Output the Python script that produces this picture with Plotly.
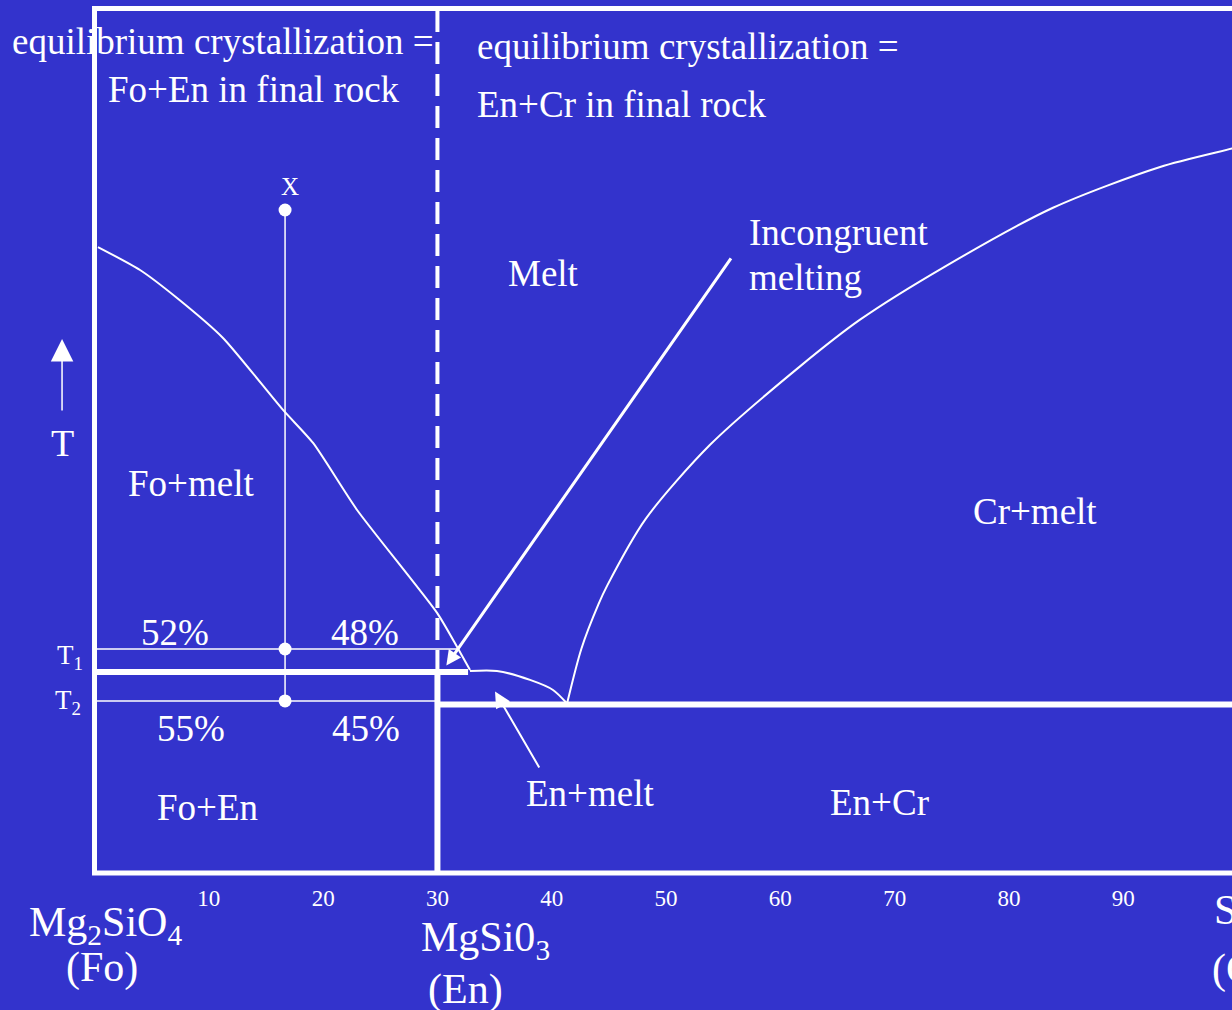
import numpy as np
import plotly.graph_objects as go

BG = "#3333CC"
FG = "white"
FONT = "Liberation Serif"

# ---------------- data (composition along x, relative temperature along y: 0 = bottom, 100 = top) -------------
tick_vals = [10, 20, 30, 40, 50, 60, 70, 80, 90]
tick_text = ["10", "20", "30", "40", "50", "60", "70", "80", "90"]

# Forsterite liquidus
fo_liquidus_x = [0.3, 3.98, 7.22, 11.24, 16.49, 19.12, 22.97, 29.97, 31.72, 32.85]
fo_liquidus_T = [72.4, 69.75, 66.51, 61.89, 53.56, 49.74, 41.99, 30.08, 26.14, 23.48]

# Enstatite liquidus (peritectic -> eutectic)
en_liquidus_x = [32.85, 35.21, 38.10, 40.11, 41.34]
en_liquidus_T = [23.37, 23.37, 22.33, 21.17, 19.6]

# Cristobalite liquidus
cr_liquidus_x = [41.34, 42.6, 44.1, 44.85, 48.22, 53.85, 61.72, 66.97, 74.47, 83.85, 93.22, 99.52, 100.0]
cr_liquidus_T = [19.6, 25.97, 31.12, 33.24, 40.96, 49.53, 58.60, 64.00, 70.20, 76.95, 81.67, 83.80, 84.0]

en_x = 30.0            # enstatite composition
peritectic_T = 23.25
peritectic_x = 32.68
eutectic_T = 19.49

bulk_x = 16.67         # bulk composition X
start_T = 76.69
T1 = 25.91
T2 = 19.90

x_range = [-8.268, 99.51]
y_range = [-15.85, 100.98]

fig = go.Figure()


def line(x, y, width, dash=None, shape="linear", smoothing=None):
    ld = dict(color=FG, width=width, dash=dash, shape=shape)
    if smoothing is not None:
        ld["smoothing"] = smoothing
    fig.add_trace(go.Scatter(x=x, y=y, mode="lines", hoverinfo="skip", line=ld))


# frame
line([100, 0, 0, 100], [100, 100, 0, 0], 5)
# liquidus curves
line(fo_liquidus_x, fo_liquidus_T, 2, shape="spline", smoothing=0.6)
line(en_liquidus_x, en_liquidus_T, 2, shape="spline", smoothing=0.8)
line(cr_liquidus_x, cr_liquidus_T, 2, shape="spline", smoothing=0.8)
# peritectic & eutectic isotherms
line([0, peritectic_x], [peritectic_T, peritectic_T], 6)
line([en_x, 100], [eutectic_T, eutectic_T], 6)
# enstatite composition line
line([en_x, en_x], [0, peritectic_T], 6)
line([en_x, en_x], [peritectic_T, 100], 4, dash="22px,10px")
# tie lines at T1 and T2
t1_end = float(np.interp(T1, fo_liquidus_T[::-1], fo_liquidus_x[::-1]))
line([0, t1_end], [T1, T1], 1.5)
line([0, en_x], [T2, T2], 1.5)
# isopleth of X
line([bulk_x, bulk_x], [T2, start_T], 1.5)
fig.add_trace(go.Scatter(x=[bulk_x] * 3, y=[start_T, T1, T2], mode="markers", hoverinfo="skip",
                         marker=dict(color=FG, size=13)))

ann = []


def text(x, y, s, size=37, xanchor="left"):
    ann.append(dict(x=x, y=y, text=s, showarrow=False,
                    xanchor=xanchor, yanchor="middle", borderpad=0, borderwidth=0,
                    font=dict(family=FONT, size=size, color=FG)))


def arrow(x, y, ax, ay, width, size, head=2):
    ann.append(dict(x=x, y=y, ax=ax, ay=ay, axref="x", ayref="y", text="", showarrow=True,
                    arrowhead=head, arrowwidth=width, arrowsize=size, arrowcolor=FG))


text(-7.22, 96.13, "equilibrium crystallization =")
text(1.18, 90.57, "Fo+En in final rock")
text(33.46, 95.55, "equilibrium crystallization =")
text(33.46, 88.84, "En+Cr in final rock")
text(17.1, 79.35, "X", size=25, xanchor="center")
text(36.18, 69.4, "Melt")
text(57.26, 74.03, "Incongruent")
text(57.26, 68.83, "melting")
text(-2.84, 49.74, "T", size=38, xanchor="center")
text(2.93, 45.11, "Fo+melt")
text(76.86, 41.87, "Cr+melt")
text(4.07, 27.76, "52%")
text(20.69, 27.76, "48%")
text(5.47, 16.66, "55%")
text(20.78, 16.66, "45%")
text(-3.28, 24.95, "T<sub>1</sub>", size=27)
text(-3.45, 19.75, "T<sub>2</sub>", size=27)
text(5.47, 7.52, "Fo+En")
text(37.75, 9.25, "En+melt")
text(64.35, 8.21, "En+Cr")
text(-5.73, -6.0, "Mg<sub>2</sub>SiO<sub>4</sub>", size=42)
text(-2.49, -10.99, "(Fo)", size=42)
text(28.57, -7.7, "MgSi0<sub>3</sub>", size=42)
text(29.18, -13.53, "(En)", size=42)
text(97.94, -4.6, "SiO<sub>2</sub>", size=42)
text(97.76, -11.22, "(Cr)", size=42)

arrow(30.78, 24.0, 55.77, 71.26, 3, 1.0)
arrow(35.04, 21.0, 38.98, 12.03, 2, 1.6)
arrow(-2.84, 61.77, -2.84, 53.33, 1.5, 3.0)

fig.update_layout(
    width=1232, height=1010,
    margin=dict(l=0, r=0, t=0, b=0),
    paper_bgcolor=BG, plot_bgcolor=BG,
    showlegend=False,
    annotations=ann,
    xaxis=dict(range=x_range, showgrid=False, zeroline=False, showline=False,
               tickvals=tick_vals, ticktext=tick_text, ticks="outside", ticklen=4,
               tickcolor="rgba(0,0,0,0)", anchor="free", position=(1010 - 873) / 1010,
               tickfont=dict(family=FONT, size=23, color=FG), fixedrange=True),
    yaxis=dict(range=y_range, visible=False, fixedrange=True),
)

fig.write_html("out.html", config={"displayModeBar": False},
               post_script="document.body.style.margin='0';document.body.style.overflow='hidden';")
